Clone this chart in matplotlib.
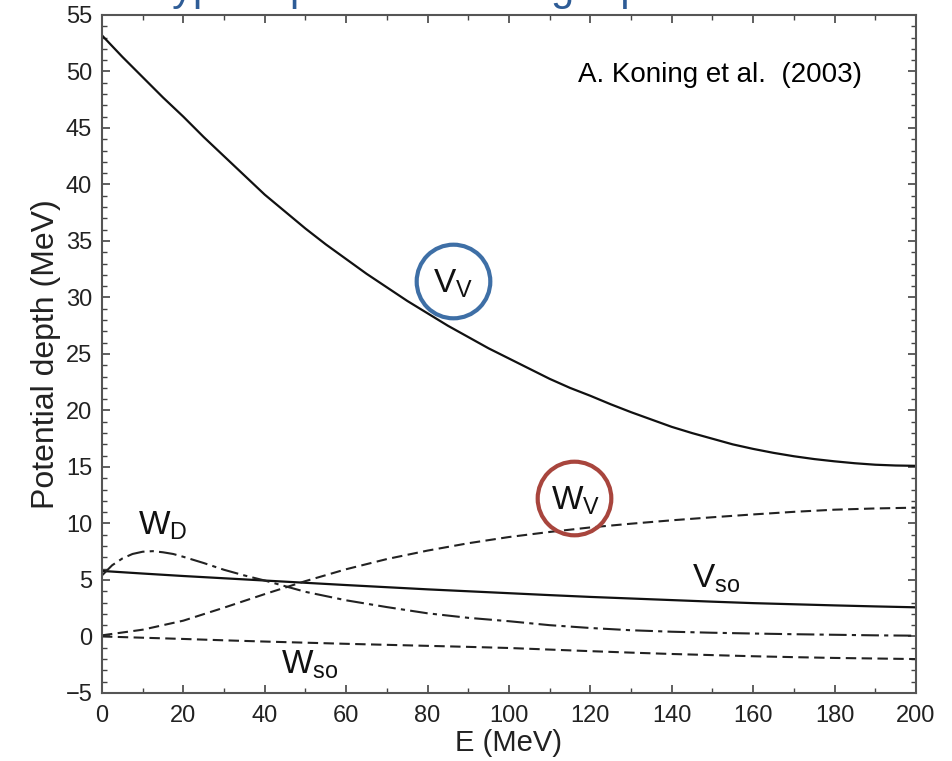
import matplotlib
matplotlib.use("Agg")
import matplotlib.pyplot as plt
from matplotlib.ticker import MultipleLocator

plt.rcParams['font.family'] = 'Liberation Sans'
plt.rcParams['mathtext.fontset'] = 'custom'
plt.rcParams['mathtext.rm'] = 'Liberation Sans'

# energies (MeV)
E = [0, 10, 20, 30, 40, 50, 60, 70, 80, 90, 100,
     110, 120, 130, 140, 150, 160, 170, 180, 190, 200]
E5 = [0, 5, 10, 15, 20, 25, 30, 35, 40, 45, 50, 55, 60, 65, 70, 75, 80, 85, 90, 95, 100,
      105, 110, 115, 120, 125, 130, 135, 140, 145, 150, 155, 160, 165, 170, 175, 180,
      185, 190, 195, 200]
E_wd = [0, 2.5, 5, 7.5, 10, 12.5, 15, 17.5, 20, 25, 30, 35, 40, 50, 60, 70, 80, 90, 100,
        110, 120, 130, 140, 150, 160, 170, 180, 190, 200]

# potential depths (MeV)
V_v = [53.2, 51.3, 49.5, 47.7, 46.0, 44.2, 42.5, 40.8, 39.1, 37.6, 36.1, 34.7, 33.4,
       32.1, 30.9, 29.7, 28.6, 27.5, 26.5, 25.5, 24.6, 23.7, 22.8, 22.0, 21.3, 20.55,
       19.85, 19.2, 18.55, 18.0, 17.5, 17.0, 16.6, 16.25, 15.95, 15.7, 15.5, 15.33,
       15.2, 15.13, 15.1]
W_v = [0.1, 0.6, 1.4, 2.55, 3.75, 4.9, 5.95, 6.85, 7.6, 8.25, 8.8,
       9.25, 9.65, 9.98, 10.28, 10.55, 10.8, 11.03, 11.22, 11.33, 11.4]
V_so = [5.8, 5.57, 5.35, 5.15, 4.95, 4.75, 4.55, 4.36, 4.17, 4.0, 3.83,
        3.66, 3.5, 3.36, 3.22, 3.08, 2.95, 2.85, 2.75, 2.66, 2.58]
W_so = [0.0, -0.11, -0.22, -0.34, -0.45, -0.55, -0.65, -0.74, -0.83, -0.92, -1.02,
        -1.16, -1.3, -1.43, -1.55, -1.65, -1.75, -1.83, -1.9, -1.95, -2.0]
W_d = [5.4, 6.3, 6.9, 7.3, 7.5, 7.55, 7.45, 7.3, 7.05, 6.5, 5.9, 5.4, 4.95, 3.95, 3.2,
       2.6, 2.05, 1.65, 1.35, 1.0, 0.75, 0.55, 0.42, 0.33, 0.26, 0.2, 0.15, 0.1, 0.07]

fig = plt.figure(figsize=(9.52, 7.61), dpi=100)
ax = fig.add_axes([0.1071, 0.0894, 0.8550, 0.8909])

ax.plot(E5, V_v, color='#111111', lw=1.6)
ax.plot(E, V_so, color='#111111', lw=1.6)
ax.plot(E, W_v, color='#222222', lw=1.5, dashes=(5, 2.6))
ax.plot(E, W_so, color='#222222', lw=1.5, dashes=(5, 2.6))
ax.plot(E_wd, W_d, color='#222222', lw=1.5, dashes=(8.5, 2.5, 2, 2.5))

# curve labels
lab = dict(fontsize=24, ha='center', va='center', color='#111111')
ax.text(15, 9.8, r'W$_{\mathrm{D}}$', **lab)
ax.text(51, -2.5, r'W$_{\mathrm{so}}$', **lab)
ax.text(151, 5.1, r'V$_{\mathrm{so}}$', **lab)
ax.text(86.3, 31.2, r'V$_{\mathrm{V}}$', **lab)
ax.text(116.3, 12.0, r'W$_{\mathrm{V}}$', **lab)

# highlight rings
ax.plot([86.2], [31.5], 'o', ms=53, mfc='none', mec='#3E6FA6', mew=3.0)
ax.plot([116.0], [12.25], 'o', ms=53, mfc='none', mec='#A8453D', mew=3.0)

ax.text(0.934, 0.911, 'A. Koning et al.  (2003)', transform=ax.transAxes,
        fontsize=20, ha='right', va='center', color='black')

ax.set_xlim(0, 200)
ax.set_ylim(-5, 55)
ax.xaxis.set_major_locator(MultipleLocator(20))
ax.xaxis.set_minor_locator(MultipleLocator(10))
ax.yaxis.set_major_locator(MultipleLocator(5))
ax.yaxis.set_minor_locator(MultipleLocator(1))
ax.tick_params(which='both', direction='in', top=True, right=True,
               color='#444444', labelsize=17, labelcolor='#222222')
ax.tick_params(which='major', length=6, width=1.2)
ax.tick_params(which='minor', length=3.5, width=1.0)
ax.tick_params(axis='x', pad=9)
ax.tick_params(axis='y', pad=7)
ax.set_yticks(range(-5, 56, 5))
ax.set_yticklabels(['\u22125'] + [str(v) for v in range(0, 56, 5)])
for s in ax.spines.values():
    s.set_color('#555555')
    s.set_linewidth(1.5)

ax.set_xlabel('E (MeV)', fontsize=21, color='#222222', labelpad=1)
ax.set_ylabel('Potential depth (MeV)', fontsize=23, color='#222222', labelpad=3)

# slide heading, mostly cut off above the frame
fig.text(0.157, 1.0, 'Typical potential strength parameters', fontsize=30,
         color='#2E5C96', ha='left', va='baseline')

fig.savefig('out.png', dpi=100)
